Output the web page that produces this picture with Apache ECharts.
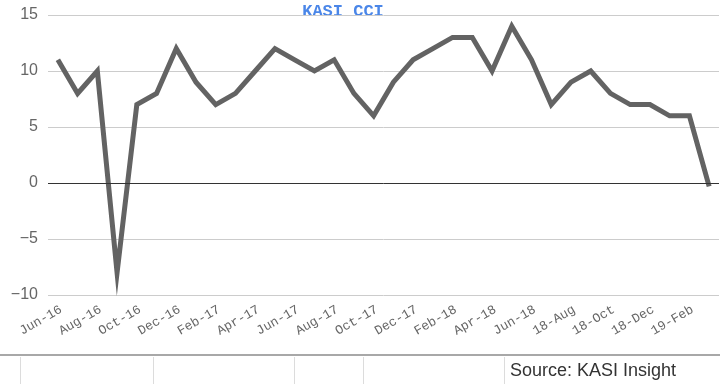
<!DOCTYPE html>
<html>
<head>
<meta charset="utf-8">
<script src="https://cdn.jsdelivr.net/npm/echarts@6/dist/echarts.min.js"></script>
<style>
html,body{margin:0;padding:0;background:#fff;}
#chart{width:720px;height:384px;}
</style>
</head>
<body>
<div id="chart"></div>
<script>
var categories = ["Jun-16","Jul-16","Aug-16","Sep-16","Oct-16","Nov-16","Dec-16",
  "Jan-17","Feb-17","Mar-17","Apr-17","May-17","Jun-17","Jul-17","Aug-17","Sep-17","Oct-17","Nov-17","Dec-17",
  "Jan-18","Feb-18","Mar-18","Apr-18","May-18","Jun-18","Jul-18",
  "18-Aug","18-Sep","18-Oct","18-Nov","18-Dec","19-Jan","19-Feb","19-Mar"];
var cciValues = [11,8,10,-8,7,8,12,
  9,7,8,10,12,11,10,11,8,6,9,11,
  12,13,13,10,14,11,7,
  9,10,8,7,7,6,6,-0.3];
var yTicks = {min:-10, max:15, interval:5};
var titleText = "KASI CCI";
var sourceText = "Source: KASI Insight";
var tableDividers = [20,153,294,363,504];

var chart = echarts.init(document.getElementById('chart'), null, {renderer:'canvas'});
var graphics = [
  {type:'line', shape:{x1:0,y1:355,x2:720,y2:355}, style:{stroke:'#a8a8a8', lineWidth:2}, silent:true},
  {type:'text', x:510, y:362, style:{text:sourceText, font:'18px "Liberation Sans", Arial, sans-serif', fill:'#333'}, silent:true},
  {type:'text', x:343, y:12, style:{text:titleText, font:'bold 17px "Liberation Mono", "Courier New", monospace', fill:'#4a86e8', align:'center', verticalAlign:'middle'}, silent:true}
];
tableDividers.forEach(function(x){
  graphics.push({type:'line', shape:{x1:x+0.5,y1:357,x2:x+0.5,y2:384}, style:{stroke:'#dcdcdc', lineWidth:1}, silent:true});
});
chart.setOption({
  animation:false,
  grid:{left:48, right:1, top:15, bottom:89},
  xAxis:{type:'category', data:categories, boundaryGap:true,
    axisLine:{show:false, onZero:false}, axisTick:{show:false},
    axisLabel:{interval:1, rotate:30, margin:8, verticalAlign:'top', color:'#666666', fontSize:13,
      fontFamily:'"Liberation Mono", "Courier New", monospace'},
    splitLine:{show:false}},
  yAxis:{type:'value', min:yTicks.min, max:yTicks.max, interval:yTicks.interval,
    axisLine:{show:false}, axisTick:{show:false},
    axisLabel:{color:'#666666', fontSize:16, margin:10, fontFamily:'"Liberation Sans", Arial, sans-serif',
      formatter:function(v){ return String(v).replace('-', '\u2212'); }},
    splitLine:{lineStyle:{color:'#cccccc', width:1}}},
  series:[{type:'line', data:cciValues, symbol:'none', smooth:false,
    lineStyle:{color:'#636363', width:5, join:'miter', miterLimit:10, cap:'butt'},
    markLine:{silent:true, symbol:'none', label:{show:false},
      lineStyle:{color:'#333333', width:1, type:'solid'},
      data:[{yAxis:0}]}
  }],
  graphic:graphics
});
</script>
</body>
</html>
